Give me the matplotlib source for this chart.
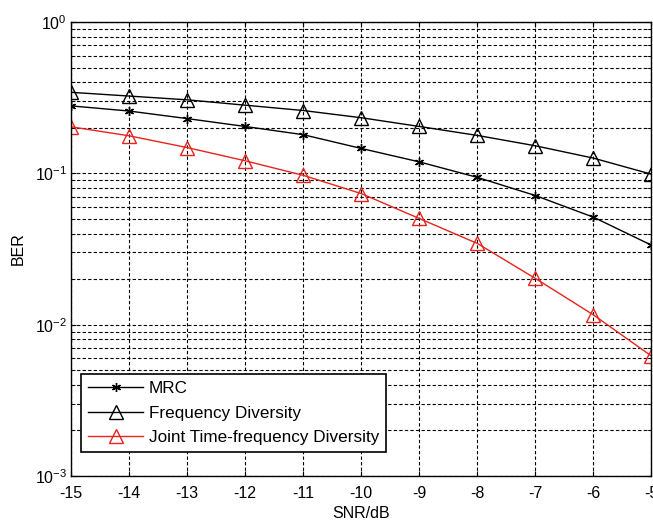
import numpy as np
import matplotlib
matplotlib.use("Agg")
import matplotlib.pyplot as plt
from matplotlib.ticker import LogLocator, NullFormatter

plt.rcParams['font.family'] = ['Liberation Sans', 'DejaVu Sans']
plt.rcParams['mathtext.fontset'] = 'custom'
plt.rcParams['mathtext.rm'] = 'Liberation Sans'
plt.rcParams['mathtext.default'] = 'regular'
plt.rcParams['axes.unicode_minus'] = False

snr = [-15, -14, -13, -12, -11, -10, -9, -8, -7, -6, -5]
ber_mrc = [0.279, 0.258, 0.230, 0.204, 0.180, 0.146, 0.119, 0.094, 0.0713, 0.0513, 0.0335]
ber_freq = [0.343, 0.324, 0.306, 0.282, 0.260, 0.233, 0.204, 0.178, 0.152, 0.126, 0.0986]
ber_joint = [0.203, 0.177, 0.148, 0.121, 0.097, 0.0735, 0.0503, 0.0344, 0.0202, 0.0116, 0.0062]

fig = plt.figure(figsize=(6.53, 5.21), dpi=100)
ax = fig.add_axes([0.1087, 0.0864, 0.889, 0.8714])

ax.semilogy(snr, ber_mrc, color='black', lw=1, marker=(6, 2, 0), ms=6.5, mew=1, label='MRC')
ax.semilogy(snr, ber_freq, color='black', lw=1, marker='^', ms=10, mfc='none', mew=1,
            label='Frequency Diversity')
ax.semilogy(snr, ber_joint, color='#e8231c', lw=1, marker='^', ms=10, mfc='none', mew=1,
            label='Joint Time-frequency Diversity')

ax.set_xlim(-15, -5)
ax.set_ylim(1e-3, 1)
ax.set_xticks(snr)
ax.yaxis.set_major_locator(LogLocator(base=10, numticks=10))
ax.yaxis.set_minor_locator(LogLocator(base=10, subs=np.arange(2, 10), numticks=10))
ax.yaxis.set_minor_formatter(NullFormatter())

ax.grid(True, which='major', color='black', ls=(0, (3, 2)), lw=0.8)
ax.grid(True, which='minor', axis='y', color='black', ls=(0, (3, 2)), lw=0.8)
ax.tick_params(which='both', direction='in', labelsize=11.5, top=True, right=True)
ax.tick_params(axis='x', pad=7)
ax.tick_params(axis='y', pad=3)
ax.tick_params(which='minor', length=3)
for s in ax.spines.values():
    s.set_linewidth(1)

ax.set_xlabel('SNR/dB', fontsize=11.5, labelpad=4)
ax.set_ylabel('BER', fontsize=11.5, labelpad=6)

leg = ax.legend(loc='lower left', bbox_to_anchor=(0.018, 0.053), borderaxespad=0,
                fancybox=False, framealpha=1, edgecolor='black', fontsize=12.3,
                handlelength=3.2, handletextpad=0.35, labelspacing=0.55)
leg.get_frame().set_linewidth(1.2)

fig.savefig('out.png', dpi=100)
